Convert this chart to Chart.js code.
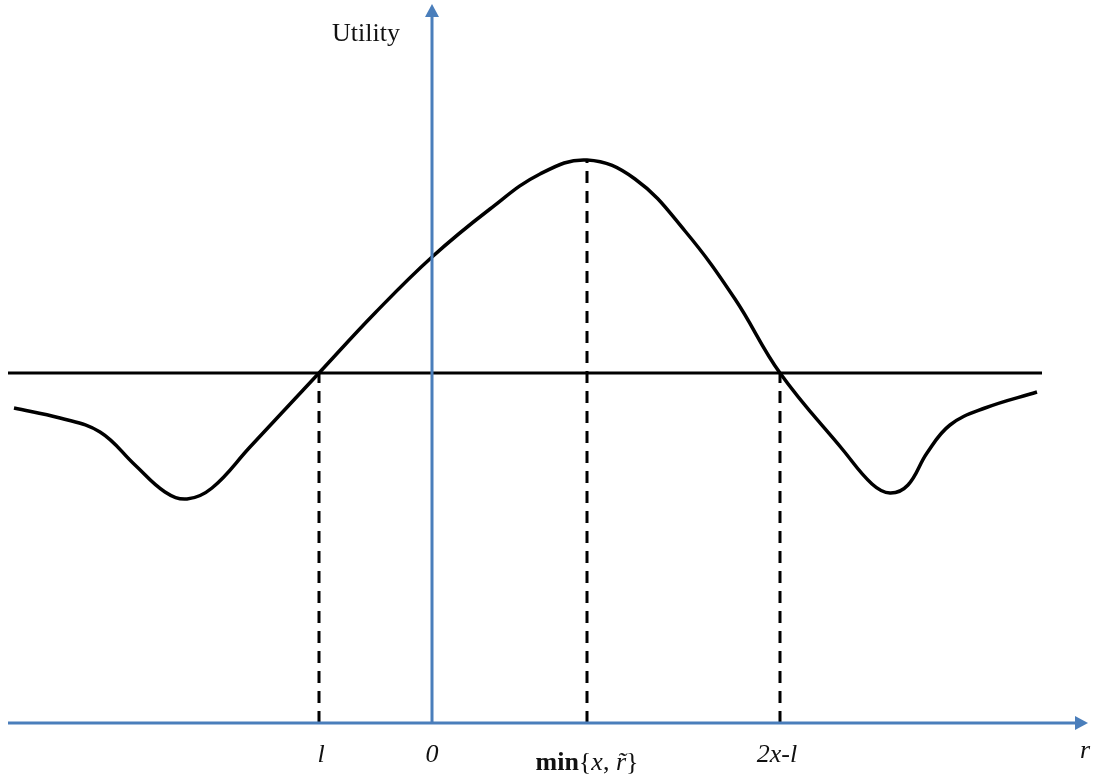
<!DOCTYPE html>
<html>
<head>
<meta charset="utf-8">
<script src="https://cdn.jsdelivr.net/npm/chart.js@4/dist/chart.umd.min.js"></script>
<style>
  html, body { margin: 0; padding: 0; background: #fff; }
  #wrap { width: 1094px; height: 777px; position: relative; }
</style>
</head>
<body>
<div id="wrap"><canvas id="utilityChart"></canvas></div>
<script>
// utility curve (r = 0 at the vertical axis, utility = 0 at the r axis)
const curveR = [-41.8,-37.2,-33.2,-29.7,-26.7,-24.5,-22.0,-18.2,-11.3,-5.7,0,5.8,10.8,15.5,20.3,25.3,30.3,34.8,41.1,44.0,45.8,47.6,49.5,51.8,55.3,60.5];
const curveU = [31.5,30.5,29.1,25.8,23.1,22.4,23.5,27.6,35.0,41.0,46.6,51.4,54.9,56.3,54.4,49.2,42.4,35.0,27.3,23.9,23.0,23.8,27.0,29.8,31.5,33.1];

// horizontal reference level
const levelR = [-42.4, 61.0];
const levelU = 35.0;

// dashed drop lines: r position and curve height
const dropR = [-11.3, 15.5, 34.8];
const dropU = [35.0, 56.3, 35.0];
const dropLabels = ["l", "min", "2x-l"];

// axes
const rAxisFrom = -42.4, rAxisTip = 65.6;
const uAxisTip = 71.9;
const zeroLabel = "0";
const yTitle = "Utility";
const xTitle = "r";

const blue = "#4a7ebb";

const toPts = (xs, ys) => xs.map((x, i) => ({ x: x, y: ys[i] }));

const datasets = [
    { data: [{x: rAxisFrom, y: 0}, {x: rAxisTip - 1.1, y: 0}], borderColor: blue, borderWidth: 3 },
    { data: [{x: 0, y: 0}, {x: 0, y: uAxisTip - 1.1}], borderColor: blue, borderWidth: 3 },
    { data: toPts(levelR, [levelU, levelU]), borderColor: "#000", borderWidth: 3 },
    { data: toPts(curveR, curveU), borderColor: "#000", borderWidth: 3.5, tension: 0.4 }
];
dropR.forEach((r, i) => {
    datasets.push({ data: [{x: r, y: 0}, {x: r, y: dropU[i]}], borderColor: "#000", borderWidth: 3, borderDash: [12, 8] });
});
datasets.forEach(d => { d.showLine = true; d.pointRadius = 0; d.fill = false; });

const serif = "'Liberation Serif'";

const labelPlugin = {
    id: "labels",
    afterDatasetsDraw(chart) {
        const c = chart.ctx, xs = chart.scales.x, ys = chart.scales.y;
        const X = v => xs.getPixelForValue(v), Y = v => ys.getPixelForValue(v);

        // arrow heads
        c.save();
        c.fillStyle = blue;
        const hx = X(rAxisTip), hy = Y(0);
        c.beginPath(); c.moveTo(hx, hy); c.lineTo(hx - 13, hy - 7); c.lineTo(hx - 13, hy + 7); c.closePath(); c.fill();
        const vx = X(0), vy = Y(uAxisTip);
        c.beginPath(); c.moveTo(vx, vy); c.lineTo(vx - 7, vy + 13); c.lineTo(vx + 7, vy + 13); c.closePath(); c.fill();

        c.fillStyle = "#111";
        c.textBaseline = "middle";
        c.textAlign = "center";
        const italic = "italic 26px " + serif;
        const plain = "26px " + serif;
        const base = Y(0);

        c.font = italic;
        c.fillText(dropLabels[0], X(dropR[0]) + 2, base + 32);
        c.fillText(zeroLabel, X(0), base + 32);
        c.fillText(dropLabels[2], X(dropR[2]) - 3, base + 32);
        c.fillText(xTitle, hx - 3, base + 28);

        c.font = plain;
        c.fillText(yTitle, X(0) - 66, Y(uAxisTip) + 30);

        // min{x, r~} built from pieces
        const parts = [
            ["bold 26px " + serif, "min"],
            [plain, "{"],
            [italic, "x"],
            [plain, ", "],
            [italic, "r\u0303"],
            [plain, "}"]
        ];
        let w = 0;
        parts.forEach(p => { c.font = p[0]; w += c.measureText(p[1]).width; });
        let x0 = X(dropR[1]) - w / 2;
        c.textAlign = "left";
        parts.forEach(p => { c.font = p[0]; c.fillText(p[1], x0, base + 40); x0 += c.measureText(p[1]).width; });
        c.restore();
    }
};

new Chart(document.getElementById("utilityChart"), {
    type: "scatter",
    data: { datasets: datasets },
    options: {
        responsive: true,
        maintainAspectRatio: false,
        animation: false,
        layout: { padding: 0 },
        plugins: { legend: { display: false }, tooltip: { enabled: false } },
        scales: {
            x: { type: "linear", min: -43.2, max: 66.2, display: false },
            y: { type: "linear", min: -5.4, max: 72.3, display: false }
        }
    },
    plugins: [labelPlugin]
});
</script>
</body>
</html>
